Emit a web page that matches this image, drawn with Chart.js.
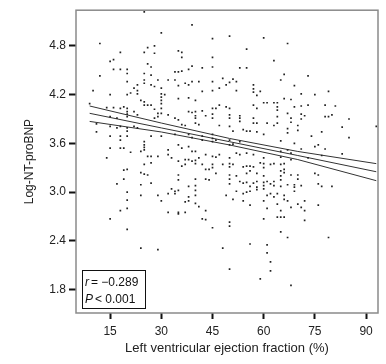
<!DOCTYPE html>
<html>
<head>
<meta charset="utf-8">
<script src="https://cdn.jsdelivr.net/npm/chart.js@4.4.1/dist/chart.umd.min.js"></script>
<style>
  html, body { margin: 0; padding: 0; background: #fff; }
  #wrap { width: 386px; height: 364px; }
</style>
</head>
<body>
<div id="wrap"><canvas id="chart"></canvas></div>
<script>
// LVEF (%) vs log NT-proBNP
const patients = [
  [25,5.22],[30,4.96],[12,4.83],[26,4.78],[28,4.80],[18,4.72],[25,4.72],[28,4.71],[16,4.63],[15,4.61],
  [26,4.58],[27,4.54],[16,4.51],[18,4.51],[20,4.51],[12,4.43],[20,4.46],[25,4.46],[25,4.38],[27,4.44],
  [29,4.38],[28,4.30],[27,4.32],[25,4.34],[20,4.36],[23,4.32],[22,4.28],[23,4.25],[21,4.22],[23,4.21],
  [15,4.20],[10,4.25],[20,4.20],[30,4.28],[30,4.21],[30,4.17],[30,4.13],[30,4.09],[31,4.20],[34,4.48],
  [34,4.38],[32,4.38],[24,4.13],[25,4.11],[25,4.07],[26,4.07],[27,4.07],[9,4.09],[14,4.04],[16,4.04],
  [18,4.03],[19,4.05],[20,4.03],[20,3.99],[20,3.96],[20,3.93],[22,3.99],[23,3.95],[28,4.02],[29,3.97],
  [30,4.03],[30,3.97],[32,3.95],[34,3.91],[15,3.93],[17,3.91],[28,3.91],[29,3.93],[11,3.74],[11,3.84],
  [15,3.81],[17,3.79],[18,3.81],[20,3.79],[20,3.75],[20,3.69],[22,3.81],[23,3.79],[15,3.69],[18,3.69],
  [18,3.64],[25,3.62],[25,3.58],[25,3.55],[25,3.52],[27,3.69],[30,3.69],[15,3.54],[18,3.54],[19,3.54],
  [24,3.50],[26,3.44],[27,3.44],[29,3.44],[21,3.49],[14,3.42],[32,3.52],[32,3.46],[33,3.42],[34,3.71],
  [39,5.06],[45,4.89],[50,4.92],[60,4.90],[55,4.76],[35,4.74],[36,4.72],[45,4.66],[36,4.66],[63,4.62],
  [39,4.55],[38,4.51],[42,4.53],[45,4.54],[53,4.53],[55,4.53],[35,4.48],[36,4.49],[48,4.40],[51,4.39],
  [52,4.36],[39,4.36],[41,4.36],[37,4.34],[38,4.32],[35,4.31],[45,4.36],[47,4.28],[49,4.32],[50,4.35],
  [52,4.25],[57,4.32],[57,4.27],[57,4.23],[58,4.19],[59,4.24],[42,4.24],[45,4.25],[38,4.16],[40,4.13],
  [35,4.15],[60,4.10],[61,4.10],[63,4.10],[64,4.10],[64,4.05],[64,4.01],[57,4.07],[58,4.03],[47,4.07],
  [49,4.05],[50,4.03],[50,3.95],[50,3.91],[45,4.03],[45,3.96],[45,3.91],[46,4.03],[38,3.99],[39,3.98],
  [40,3.99],[40,3.94],[40,3.91],[42,4.00],[43,3.94],[53,3.94],[53,3.91],[53,3.87],[57,3.91],[57,3.85],
  [58,3.85],[61,3.85],[63,3.82],[64,3.93],[64,3.85],[35,3.89],[36,3.83],[37,3.82],[40,3.85],[41,3.83],
  [47,3.82],[50,3.81],[54,3.77],[55,3.75],[56,3.75],[58,3.74],[60,3.71],[51,3.75],[38,3.71],[39,3.67],
  [42,3.69],[42,3.64],[45,3.71],[45,3.66],[45,3.62],[46,3.64],[50,3.64],[50,3.58],[51,3.59],[53,3.62],
  [35,3.58],[36,3.54],[38,3.56],[39,3.50],[40,3.50],[43,3.46],[45,3.44],[46,3.43],[47,3.46],[50,3.42],
  [52,3.48],[53,3.46],[55,3.48],[57,3.46],[60,3.42],[37,3.40],[38,3.40],[40,3.39],[41,3.42],
  [67,4.83],[65,4.38],[66,4.45],[73,4.43],[69,4.31],[79,4.24],[75,4.20],[71,4.21],[66,4.15],[68,4.14],
  [71,4.06],[73,4.07],[69,4.05],[78,4.07],[81,4.06],[67,3.97],[68,3.91],[68,3.86],[71,3.96],[72,3.94],
  [78,3.93],[79,3.93],[80,3.95],[71,3.90],[85,3.90],[67,3.78],[67,3.73],[70,3.82],[70,3.76],[83,3.80],
  [93,3.81],[74,3.69],[77,3.74],[85,3.67],[65,3.63],[69,3.60],[75,3.56],[76,3.58],[78,3.53],[71,3.53],
  [83,3.47],[65,3.50],[67,3.52],[68,3.48],[77,3.45],[65,3.43],[68,3.40],[73,3.42],
  [25,3.34],[27,3.36],[20,3.28],[19,3.27],[24,3.24],[25,3.22],[26,3.21],[19,3.16],[17,3.10],[24,3.09],
  [27,3.11],[33,3.04],[32,2.98],[34,3.01],[34,2.98],[20,3.00],[24,2.96],[29,2.96],[30,2.89],[20,2.90],
  [18,2.77],[20,2.80],[15,2.67],[32,2.75],[35,2.75],[20,2.54],[24,2.31],[29,2.29],
  [35,3.38],[36,3.32],[37,3.34],[39,3.38],[40,3.35],[42,3.34],[43,3.28],[44,3.28],[45,3.34],[45,3.30],
  [48,3.34],[50,3.35],[50,3.31],[51,3.34],[54,3.31],[55,3.32],[56,3.32],[57,3.31],[59,3.36],[60,3.35],
  [60,3.30],[62,3.34],[63,3.35],[35,3.21],[35,3.15],[40,3.16],[40,3.08],[43,3.16],[44,3.15],[46,3.23],
  [50,3.21],[50,3.16],[50,3.10],[52,3.20],[53,3.13],[54,3.11],[55,3.12],[56,3.07],[57,3.11],[58,3.13],
  [58,3.06],[55,3.23],[56,3.26],[58,3.23],[60,3.20],[60,3.12],[60,3.08],[61,3.13],[62,3.10],[63,3.08],
  [63,3.13],[38,3.07],[35,3.02],[40,3.02],[40,2.96],[49,2.96],[52,3.01],[51,2.91],[54,2.98],[55,3.00],
  [56,3.01],[58,3.03],[60,3.04],[61,2.96],[62,2.98],[63,2.94],[64,2.98],[38,2.94],[38,2.89],[37,2.88],
  [40,2.86],[41,2.82],[43,2.77],[54,2.89],[56,2.84],[60,2.89],[61,2.80],[64,2.85],[35,2.73],[37,2.75],
  [42,2.67],[43,2.66],[50,2.63],[50,2.58],[45,2.56],[60,2.67],[64,2.69],[48,2.31],[56,2.36],[61,2.35],
  [61,2.25],[62,2.14],[62,2.03],[50,2.05],[59,1.93],
  [65,3.34],[66,3.35],[66,3.28],[66,3.24],[65,3.26],[65,3.20],[65,3.15],[68,3.21],[70,3.21],[70,3.16],
  [67,3.09],[69,3.09],[69,3.06],[71,3.08],[65,3.07],[75,3.23],[76,3.21],[76,3.10],[77,3.07],[80,3.07],
  [69,3.01],[66,2.96],[66,2.91],[67,2.89],[68,2.81],[70,2.85],[71,2.81],[72,2.89],[72,2.77],[76,2.84],
  [65,2.77],[65,2.69],[66,2.69],[72,2.65],[65,2.51],[67,2.44],[79,2.44],[68,1.85]
];

// regression line and its confidence band
const fitX = [9, 30, 50, 70, 93];
const fitMid = [3.97, 3.79, 3.62, 3.45, 3.25];
const fitUpper = [4.06, 3.85, 3.66, 3.50, 3.35];
const fitLower = [3.87, 3.74, 3.58, 3.40, 3.14];

const xTicks = [15, 30, 45, 60, 75, 90];
const yTicks = [1.8, 2.4, 3.0, 3.6, 4.2, 4.8];

const statR = '\u22120.289';
const statP = '0.001';

const fontFamily = '"Liberation Sans", Arial, Helvetica, sans-serif';

function lineSet(ys) {
  return {
    type: 'line',
    data: fitX.map((x, i) => ({ x: x, y: ys[i] })),
    borderColor: '#333',
    borderWidth: 1,
    pointRadius: 0,
    tension: 0,
    fill: false
  };
}

// frame round the plot and the r / P box
const framePlugin = {
  id: 'frame',
  afterDraw(chart) {
    const ctx = chart.ctx;
    const a = chart.chartArea;
    ctx.save();
    ctx.strokeStyle = '#8a8a8a';
    ctx.lineWidth = 1.5;
    ctx.strokeRect(a.left, a.top, a.right - a.left, a.bottom - a.top);

    const bx = a.left + 6, by = a.bottom - 43, bw = 63, bh = 38;
    ctx.fillStyle = '#fff';
    ctx.fillRect(bx, by, bw, bh);
    ctx.strokeStyle = '#111';
    ctx.lineWidth = 1;
    ctx.strokeRect(bx + 0.5, by + 0.5, bw, bh);

    ctx.fillStyle = '#111';
    ctx.textBaseline = 'alphabetic';
    ctx.font = 'italic 12px ' + fontFamily;
    ctx.fillText('r', bx + 3, by + 16);
    ctx.fillText('P', bx + 3, by + 33);
    ctx.font = '12px ' + fontFamily;
    ctx.fillText('= ' + statR, bx + 9, by + 16);
    ctx.fillText('< ' + statP, bx + 13, by + 33);
    ctx.restore();
  }
};

new Chart(document.getElementById('chart'), {
  type: 'scatter',
  data: {
    datasets: [
      {
        data: patients.map(p => ({ x: p[0], y: p[1] })),
        backgroundColor: '#222',
        borderWidth: 0,
        pointStyle: 'rect',
        pointRadius: 1.2
      },
      lineSet(fitUpper),
      lineSet(fitMid),
      lineSet(fitLower)
    ]
  },
  options: {
    responsive: true,
    maintainAspectRatio: false,
    animation: false,
    events: [],
    layout: { padding: { top: 7, right: 8, left: 0, bottom: 0 } },
    plugins: { legend: { display: false }, tooltip: { enabled: false } },
    scales: {
      x: {
        type: 'linear',
        min: 5,
        max: 93.5,
        afterBuildTicks: s => { s.ticks = xTicks.map(v => ({ value: v })); },
        afterFit: s => { s.height = 51; },
        grid: { drawOnChartArea: false, drawTicks: true, tickLength: 6, tickWidth: 2, tickColor: '#111' },
        border: { display: false },
        ticks: { color: '#222', padding: 5, font: { family: fontFamily, size: 12 } },
        title: {
          display: true,
          text: 'Left ventricular ejection fraction (%)',
          color: '#222',
          font: { family: fontFamily, size: 13 },
          padding: { top: 0, bottom: 8 }
        }
      },
      y: {
        type: 'linear',
        min: 1.51,
        max: 5.24,
        afterBuildTicks: s => { s.ticks = yTicks.map(v => ({ value: v })); },
        afterFit: s => { s.width = 76; },
        grid: { drawOnChartArea: false, drawTicks: true, tickLength: 7, tickWidth: 2, tickColor: '#111' },
        border: { display: false },
        ticks: {
          color: '#222',
          padding: 3,
          font: { family: fontFamily, size: 12 },
          callback: v => v.toFixed(1)
        },
        title: {
          display: true,
          text: 'Log-NT-proBNP',
          color: '#222',
          font: { family: fontFamily, size: 12 },
          padding: { top: 22, bottom: 0 }
        }
      }
    }
  },
  plugins: [framePlugin]
});
</script>
</body>
</html>
